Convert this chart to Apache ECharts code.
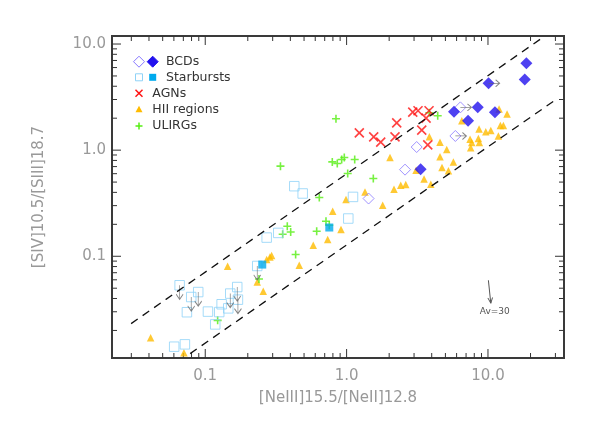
<!DOCTYPE html>
<html><head><meta charset="utf-8">
<script src="https://cdn.jsdelivr.net/npm/echarts@6/dist/echarts.min.js"></script>
<style>html,body{margin:0;padding:0;background:#fff}#c{width:598px;height:427px}</style>
</head><body><div id="c"></div>
<script>
// Axis ranges and ticks
const xMin = 0.0219, xMax = 34.5, yMin = 0.011, yMax = 11.9;
const xMajorTicks = [0.1, 1, 10];
const xMinorTicks = [0.03,0.04,0.05,0.06,0.07,0.08,0.09,0.2,0.3,0.4,0.5,0.6,0.7,0.8,0.9,2,3,4,5,6,7,8,9,20,30];
const yMajorTicks = [0.1, 1, 10];
const yMinorTicks = [0.02,0.03,0.04,0.05,0.06,0.07,0.08,0.09,0.2,0.3,0.4,0.5,0.6,0.7,0.8,0.9,2,3,4,5,6,7,8,9];

// Data: [NeIII]/[NeII], [SIV]/[SIII]
const bcdFilled = [[18.7,6.58],[18.2,4.64],[10.1,4.26],[8.47,2.53],[5.75,2.30],[11.2,2.27],[7.23,1.89],[3.34,0.662]];
const bcdOpen = [[6.38,2.53],[5.88,1.36],[3.13,1.07],[2.59,0.655],[1.43,0.350]];
const bcdLimits = [[10.1,4.26],[6.38,2.53],[5.88,1.36]];
const sbOpen = [[0.3286,0.166],[0.272,0.150],[0.0659,0.0533],[0.0796,0.0413],[0.0892,0.0460],[0.0742,0.0297],
  [0.1045,0.0301],[0.1256,0.0298],[0.1306,0.0353],[0.1177,0.0228],[0.1455,0.0323],[0.1503,0.0445],[0.1684,0.0513],
  [0.1703,0.0390],[0.2333,0.0810],[0.0603,0.01406],[0.0718,0.01479],[0.4265,0.4575],[0.489,0.3905],[1.110,0.3625],[1.028,0.2268]];
const sbFilled = [[0.2531,0.0835],[0.7543,0.1866]];
const sbLimits = [[0.0659,0.0533],[0.0796,0.0413],[0.0892,0.0460],[0.1503,0.0445],[0.1684,0.0513],[0.1703,0.0390],[0.2333,0.0810]];
const hii = [[2.028,0.853],[4.58,0.865],[5.11,1.015],[4.73,0.687],[5.25,0.638],[5.69,0.775],[3.10,0.648],[3.53,0.536],
  [3.94,0.478],[2.415,0.4675],[2.62,0.4747],[2.165,0.4285],[1.35,0.4043],[0.990,0.3426],[1.80,0.3029],[0.797,0.2658],
  [0.913,0.1786],[0.735,0.1437],[0.581,0.127],[0.4625,0.0823],[0.295,0.1015],[0.287,0.0985],[0.272,0.0931],[0.144,0.0804],
  [0.2333,0.0572],[0.2573,0.0468],[0.0411,0.0171],[0.0707,0.01235],[11.98,2.437],[13.65,2.186],[6.53,1.889],[8.65,1.578],
  [9.65,1.488],[10.47,1.534],[12.24,1.710],[12.85,1.710],[3.85,1.335],[4.58,1.19],[7.47,1.27],[7.68,1.182],[8.55,1.29],
  [8.69,1.182],[7.55,1.051],[11.85,1.356]];
const agn = [[2.937,2.283],[3.20,2.349],[3.83,2.349],[3.65,2.004],[2.262,1.809],[1.23,1.456],[1.555,1.335],[1.743,1.19],
  [2.20,1.335],[3.40,1.544],[3.75,1.122]];
const ulirg = [[0.841,1.974],[4.41,2.107],[3.85,2.248],[0.792,0.775],[0.859,0.749],[0.923,0.817],[0.963,0.853],[1.141,0.817],
  [0.3405,0.7066],[1.018,0.603],[1.545,0.541],[0.641,0.358],[0.3805,0.192],[0.353,0.1612],[0.4022,0.1695],[0.6143,0.1721],
  [0.7148,0.2138],[0.754,0.196],[0.436,0.1038],[0.2399,0.0611],[0.1224,0.0249]];
const upperLine = [[0.0299,0.0232],[24.6,11.6]];
const lowerLine = [[0.0782,0.0121],[30.3,3.0]];
const avArrow = [[10.07,0.0594,10.47,0.0361]];
const avLabel = 'Av=30';

const C = {bcd:'#2211ee', bcdOpen:'#8878ff', sb:'#00aaee', sbOpen:'#8fd2f7', agn:'#ff1111', hii:'#ffbb00', ulirg:'#55ee11', arrow:'#666'};
const XPATH = 'path://M0,0L10,10M0,10L10,0';
const PPATH = 'path://M5,0L5,10M0,5L10,5';
const DOWN = 'path://M4,0L4,14M0,9L4,14L8,9';
const RIGHT = 'path://M0,4L14,4M9,0L14,4L9,8';

function renderAv(params, api) {
  const a = api.coord([api.value(0), api.value(1)]), b = api.coord([api.value(2), api.value(3)]);
  const ang = Math.atan2(b[1]-a[1], b[0]-a[0]), h = 6, w = 0.4;
  const p1 = [b[0]-h*Math.cos(ang-w), b[1]-h*Math.sin(ang-w)];
  const p2 = [b[0]-h*Math.cos(ang+w), b[1]-h*Math.sin(ang+w)];
  return {type:'group', children:[
    {type:'polyline', shape:{points:[a,b]}, style:{stroke:'#555', lineWidth:1, fill:null}},
    {type:'polyline', shape:{points:[p1,b,p2]}, style:{stroke:'#555', lineWidth:1, fill:null}},
    {type:'text', x:b[0]+4, y:b[1]+8, style:{text:avLabel, fill:'#555', font:'9px DejaVu Sans', align:'center', verticalAlign:'middle'}}]};
}
// Tick marks on all four sides; positions along each axis come from the library's scales
function renderTicks(params, api) {
  try {
    const cs = params.coordSys;
    const L = cs.x, R = cs.x + cs.width, T = cs.y, B = cs.y + cs.height;
    const children = [];
    const seg = (x1, y1, x2, y2) => children.push({type:'polyline', shape:{points:[[x1, y1], [x2, y2]]},
      style:{stroke:'#333', lineWidth:1, fill:null}});
    const addX = (v, len) => { const x = api.coord([v, 1])[0]; if (isFinite(x)) { seg(x, B, x, B - len); seg(x, T, x, T + len); } };
    const addY = (v, len) => { const y = api.coord([1, v])[1]; if (isFinite(y)) { seg(L, y, L + len, y); seg(R, y, R - len, y); } };
    xMajorTicks.forEach(v => addX(v, 9)); xMinorTicks.forEach(v => addX(v, 5));
    yMajorTicks.forEach(v => addY(v, 9)); yMinorTicks.forEach(v => addY(v, 5));
    return {type:'group', children};
  } catch (e) { return null; }
}
function sc(data, symbol, size, style, extra) {
  return Object.assign({type:'scatter', data, symbol, symbolSize:size, itemStyle:style, silent:true, emphasis:{disabled:true}}, extra||{});
}
const labFmt = v => { const l = Math.log10(v); if (Math.abs(l - Math.round(l)) > 1e-6) return ''; return v >= 1 ? v.toFixed(1) : String(+v.toFixed(1)); };
const axisFont = {color:'#999', fontSize:15, fontFamily:'DejaVu Sans'};

// Legend (drawn as graphic)
const lx = 139, lx2 = 152.7, ly = [61.7, 77.3, 93.3, 109.3, 126];
function dia(cx, cy, s, fill, stroke) { return {type:'polygon', shape:{points:[[cx,cy-s],[cx+s,cy],[cx,cy+s],[cx-s,cy]]}, style:{fill, stroke, lineWidth:1}}; }
const legTxt = (x, y, t) => ({type:'text', x, y, style:{text:t, fill:'#333', font:'12.5px DejaVu Sans', verticalAlign:'middle'}});
const legend = [
  dia(lx, ly[0], 5.5, 'none', C.bcdOpen), dia(lx2, ly[0], 5.5, C.bcd, C.bcd), legTxt(166, ly[0], 'BCDs'),
  {type:'rect', shape:{x:lx-3.5, y:ly[1]-3.5, width:7, height:7}, style:{fill:'none', stroke:C.sbOpen, lineWidth:1}},
  {type:'rect', shape:{x:lx2-3.5, y:ly[1]-3.5, width:7, height:7}, style:{fill:C.sb}}, legTxt(166, ly[1], 'Starbursts'),
  {type:'polyline', shape:{points:[[lx-3.5,ly[2]-3.5],[lx+3.5,ly[2]+3.5]]}, style:{stroke:C.agn, lineWidth:1.5}},
  {type:'polyline', shape:{points:[[lx-3.5,ly[2]+3.5],[lx+3.5,ly[2]-3.5]]}, style:{stroke:C.agn, lineWidth:1.5}}, legTxt(152.3, ly[2], 'AGNs'),
  {type:'polygon', shape:{points:[[lx,ly[3]-3.5],[lx+3.5,ly[3]+3],[lx-3.5,ly[3]+3]]}, style:{fill:C.hii}}, legTxt(152.3, ly[3], 'HII regions'),
  {type:'polyline', shape:{points:[[lx-3.5,ly[4]],[lx+3.5,ly[4]]]}, style:{stroke:C.ulirg, lineWidth:1.5}},
  {type:'polyline', shape:{points:[[lx,ly[4]-3.5],[lx,ly[4]+3.5]]}, style:{stroke:C.ulirg, lineWidth:1.5}}, legTxt(152.3, ly[4], 'ULIRGs')
];

const chart = echarts.init(document.getElementById('c'), null, {renderer:'canvas'});
chart.setOption({
  animation:false,
  backgroundColor:'#fff',
  grid:{left:112, right:34, top:36, bottom:69, show:true, borderColor:'#3a3a3a', borderWidth:2, backgroundColor:'transparent'},
  xAxis:{type:'log', logBase:10, min:xMin, max:xMax, axisLine:{show:false}, axisTick:{show:false}, splitLine:{show:false},
    axisLabel:Object.assign({formatter:labFmt, margin:11, showMinLabel:false, showMaxLabel:false}, axisFont),
    name:'[NeIII]15.5/[NeII]12.8', nameLocation:'middle', nameGap:33, nameTextStyle:{color:'#999', fontSize:15, fontFamily:'DejaVu Sans'}},
  yAxis:{type:'log', logBase:10, min:yMin, max:yMax, axisLine:{show:false}, axisTick:{show:false}, splitLine:{show:false},
    axisLabel:Object.assign({formatter:labFmt, margin:6, showMinLabel:false, showMaxLabel:false}, axisFont),
    name:'[SIV]10.5/[SIII]18.7', nameLocation:'middle', nameGap:65, nameTextStyle:{color:'#999', fontSize:15, fontFamily:'DejaVu Sans'}},
  graphic: legend,
  series:[
    {type:'line', data:upperLine, symbol:'none', silent:true, lineStyle:{color:'#111', width:1.3, type:[8,6]}},
    {type:'line', data:lowerLine, symbol:'none', silent:true, lineStyle:{color:'#111', width:1.3, type:[8,6]}},
    sc(hii, 'triangle', [7.5,7.5], {color:C.hii}),
    sc(ulirg, PPATH, 8, {color:'rgba(0,0,0,0)', borderColor:C.ulirg, borderWidth:1.6}),
    sc(agn, XPATH, 9, {color:'rgba(0,0,0,0)', borderColor:C.agn, borderWidth:1.6}),
    sc(sbOpen, 'rect', 9.5, {color:'rgba(0,0,0,0)', borderColor:C.sbOpen, borderWidth:1}),
    sc(sbFilled, 'rect', 8, {color:C.sb}),
    sc(bcdOpen, 'diamond', 11, {color:'rgba(0,0,0,0)', borderColor:C.bcdOpen, borderWidth:1}),
    sc(bcdFilled, 'diamond', 12, {color:C.bcd}),
    sc(sbLimits, DOWN, [7,14], {color:'rgba(0,0,0,0)', borderColor:C.arrow, borderWidth:1}, {symbolOffset:[0,7]}),
    sc(bcdLimits, RIGHT, [11,7], {color:'rgba(0,0,0,0)', borderColor:C.arrow, borderWidth:1}, {symbolOffset:[5.5,0]}),
    {type:'custom', data:avArrow, renderItem:renderAv, encode:{x:[0,2], y:[1,3]}, clip:false, silent:true},
    {type:'custom', data:[[1, 1]], renderItem:renderTicks, encode:{x:0, y:1}, clip:false, silent:true}
  ]
});
</script></body></html>
